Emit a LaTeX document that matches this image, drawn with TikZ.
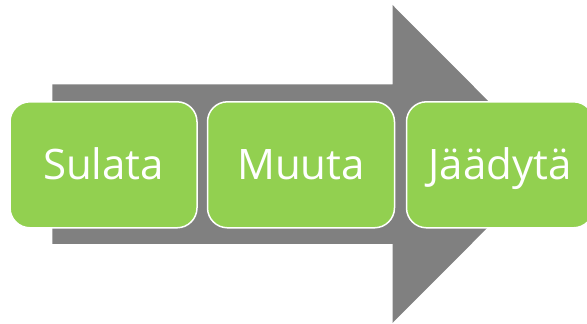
\documentclass[tikz,border=0pt]{standalone}
\usepackage{fontspec}
\setmainfont{Open Sans}
\definecolor{arrowgray}{HTML}{808080}
\definecolor{boxgreen}{HTML}{92D050}
\tikzset{
  stepbox/.style={draw=white, line width=1.5pt, fill=boxgreen, rounded corners=20pt,
    minimum width=187pt, minimum height=126pt, inner sep=0pt,
    text height=29pt, text depth=0pt,
    text=white, font=\fontsize{42}{48}\selectfont},
}
\begin{document}
\begin{tikzpicture}[x=1pt,y=1pt]
\useasboundingbox (0,0) rectangle (587,324);
\clip (0,0) rectangle (587,324);
\fill[arrowgray] (52.3,239.7) -- (392.5,239.7) -- (392.5,319) -- (551,160) -- (392.5,1) -- (392.5,80) -- (52.3,80) -- cycle;
\node[stepbox] (s1) at (103.5,159.2) {Sulata};
\node[stepbox] (s2) at (301,159.2) {Muuta};
\node[stepbox] (s3) at (500,159.2) {Jäädytä};
\end{tikzpicture}
\end{document}
